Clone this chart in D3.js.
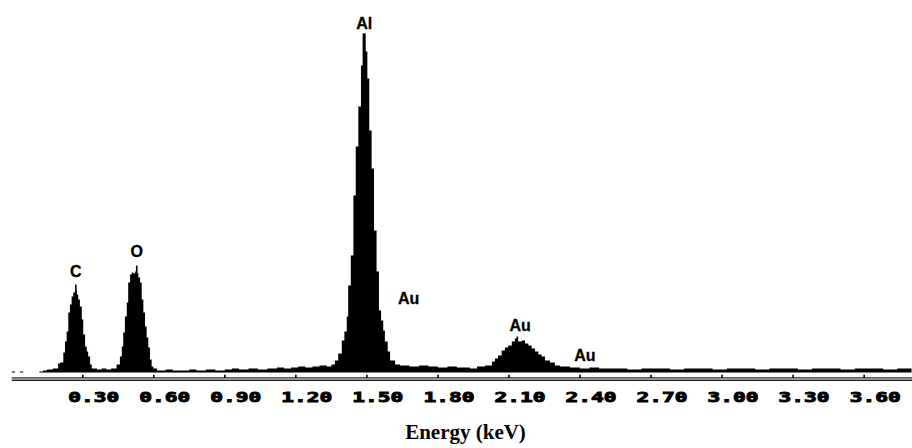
<!DOCTYPE html>
<meta charset="utf-8">
<head>
  <title>EDS spectrum</title>
  <script src="https://d3js.org/d3.v7.min.js"></script>
  <style>
    body { margin: 0; background: #fff; }
  </style>
</head>
<body>
<svg width="912" height="448"></svg>
<script>
// spectrum channels: left edge of each step (keV) and its height (counts)
var energy = [0.000, 0.014, 0.035, 0.048, 0.117, 0.132, 0.149, 0.174, 0.196, 0.204,
  0.218, 0.225, 0.232, 0.239, 0.246, 0.253, 0.260, 0.267, 0.274, 0.281,
  0.288, 0.296, 0.302, 0.310, 0.317, 0.323, 0.331, 0.338, 0.360, 0.380,
  0.400, 0.420, 0.443, 0.457, 0.465, 0.471, 0.478, 0.486, 0.492, 0.500,
  0.507, 0.514, 0.521, 0.528, 0.535, 0.542, 0.549, 0.556, 0.563, 0.570,
  0.577, 0.584, 0.591, 0.598, 0.614, 0.650, 0.680, 0.720, 0.750, 0.780,
  0.820, 0.860, 0.900, 0.930, 0.960, 1.000, 1.040, 1.080, 1.120, 1.150,
  1.180, 1.210, 1.240, 1.270, 1.300, 1.330, 1.350, 1.365, 1.379, 1.394,
  1.405, 1.415, 1.421, 1.432, 1.443, 1.453, 1.464, 1.475, 1.482, 1.495,
  1.502, 1.510, 1.520, 1.530, 1.541, 1.551, 1.560, 1.569, 1.576, 1.588,
  1.598, 1.619, 1.640, 1.680, 1.720, 1.760, 1.800, 1.840, 1.880, 1.935,
  1.965, 1.999, 2.028, 2.041, 2.054, 2.069, 2.083, 2.097, 2.112, 2.125,
  2.132, 2.139, 2.154, 2.168, 2.182, 2.196, 2.210, 2.224, 2.238, 2.252,
  2.273, 2.294, 2.315, 2.358, 2.400, 2.440, 2.480, 2.540, 2.600, 2.660,
  2.720, 2.780, 2.840, 2.900, 2.960, 3.020, 3.080, 3.140, 3.200, 3.260,
  3.320, 3.380, 3.440, 3.500, 3.560, 3.620, 3.680, 3.740, 3.800];

var counts = [1, 0, 1, 0, 1, 2, 3, 4, 9, 10,
  20, 31, 41, 60, 68, 76, 80, 82, 78, 73,
  66, 53, 38, 26, 21, 16, 8, 4, 3, 4,
  3, 4, 8, 16, 26, 40, 56, 70, 90, 98,
  100, 99, 101, 99, 95, 90, 73, 60, 46, 35,
  25, 13, 6, 4, 2, 3, 2, 2, 3, 2,
  3, 2, 3, 4, 3, 4, 3, 4, 5, 4,
  5, 6, 5, 6, 7, 6, 8, 12, 19, 32,
  41, 56, 87, 117, 177, 226, 266, 307, 339, 321,
  294, 242, 204, 142, 101, 62, 52, 42, 31, 21,
  12, 8, 7, 6, 7, 6, 5, 6, 5, 4,
  6, 7, 11, 14, 17, 22, 25, 27, 31, 34,
  36, 31, 32, 29, 27, 24, 21, 18, 16, 12,
  10, 7, 6, 5, 4, 5, 4, 4, 3, 4,
  4, 3, 4, 4, 3, 4, 4, 3, 4, 4,
  3, 4, 4, 3, 4, 4, 3, 4, 4];

// element markers: label, energy (keV), marker top, label level
var markerLabel = ["C", "O", "Al"];
var markerEnergy = [0.271, 0.528, 1.489];
var markerTop = [88, 107, 339];
var markerText = [96, 116, 344];

// labels without marker lines
var auEnergy = [1.676, 2.147, 2.421];
var auLevel = [69, 42, 12];

var tickValues = [0.30, 0.60, 0.90, 1.20, 1.50, 1.80, 2.10, 2.40, 2.70, 3.00, 3.30, 3.60];

var svg = d3.select("svg");

var x = d3.scaleLinear().domain([0, 3.8]).range([11.7, 911.5]);
var y = d3.scaleLinear().domain([0, 340]).range([372.5, 32.5]);

var spectrum = energy.map(function(e, i) { return { e: e, c: counts[i] }; });

var area = d3.area()
  .curve(d3.curveStepAfter)
  .x(function(d) { return x(d.e); })
  .y0(y(0))
  .y1(function(d) { return y(d.c); });

svg.append("path")
  .datum(spectrum)
  .attr("fill", "#000")
  .attr("d", area);

// marker lines for C, O, Al
svg.append("g").selectAll("line")
  .data(markerLabel)
  .enter().append("line")
  .attr("x1", function(d, i) { return x(markerEnergy[i]); })
  .attr("x2", function(d, i) { return x(markerEnergy[i]); })
  .attr("y1", function(d, i) { return y(markerTop[i]); })
  .attr("y2", y(60))
  .attr("stroke", "#000")
  .attr("stroke-width", 1.6);

var labelFont = "'Liberation Sans', Arial, sans-serif";

svg.append("g").selectAll("text")
  .data(markerLabel)
  .enter().append("text")
  .attr("x", function(d, i) { return x(markerEnergy[i]); })
  .attr("y", function(d, i) { return y(markerText[i]); })
  .attr("text-anchor", "middle")
  .attr("font-family", labelFont)
  .attr("font-weight", "bold")
  .attr("font-size", 16)
  .attr("stroke", "#000")
  .attr("stroke-width", 0.3)
  .text(function(d) { return d; });

svg.append("g").selectAll("text")
  .data(auEnergy)
  .enter().append("text")
  .attr("x", function(d) { return x(d); })
  .attr("y", function(d, i) { return y(auLevel[i]); })
  .attr("text-anchor", "middle")
  .attr("font-family", labelFont)
  .attr("font-weight", "bold")
  .attr("font-size", 16)
  .attr("stroke", "#000")
  .attr("stroke-width", 0.3)
  .text("Au");

// double axis line
var axisG = svg.append("g");
[377.9, 380.2].forEach(function(yy) {
  axisG.append("line")
    .attr("x1", x(0)).attr("x2", 912)
    .attr("y1", yy).attr("y2", yy)
    .attr("stroke", "#222")
    .attr("stroke-width", 1.4);
});

axisG.selectAll("line.tick")
  .data(tickValues)
  .enter().append("line")
  .attr("class", "tick")
  .attr("x1", function(d) { return x(d); })
  .attr("x2", function(d) { return x(d); })
  .attr("y1", 374.8)
  .attr("y2", 378)
  .attr("stroke", "#000")
  .attr("stroke-width", 1.6);

axisG.selectAll("text")
  .data(tickValues)
  .enter().append("text")
  .attr("x", function(d) { return x(d) + 11; })
  .attr("y", 401.5)
  .attr("text-anchor", "middle")
  .attr("font-family", "'DejaVu Sans Mono', monospace")
  .attr("font-weight", "bold")
  .attr("font-size", 14)
  .attr("stroke", "#000")
  .attr("stroke-width", 0.9)
  .attr("textLength", 51)
  .attr("lengthAdjust", "spacingAndGlyphs")
  .text(function(d) { return d.toFixed(2); });

svg.append("text")
  .attr("x", 465.5)
  .attr("y", 439)
  .attr("text-anchor", "middle")
  .attr("font-family", "'Liberation Serif', 'Times New Roman', serif")
  .attr("font-weight", "bold")
  .attr("font-size", 21)
  .text("Energy (keV)");
</script>
</body>
